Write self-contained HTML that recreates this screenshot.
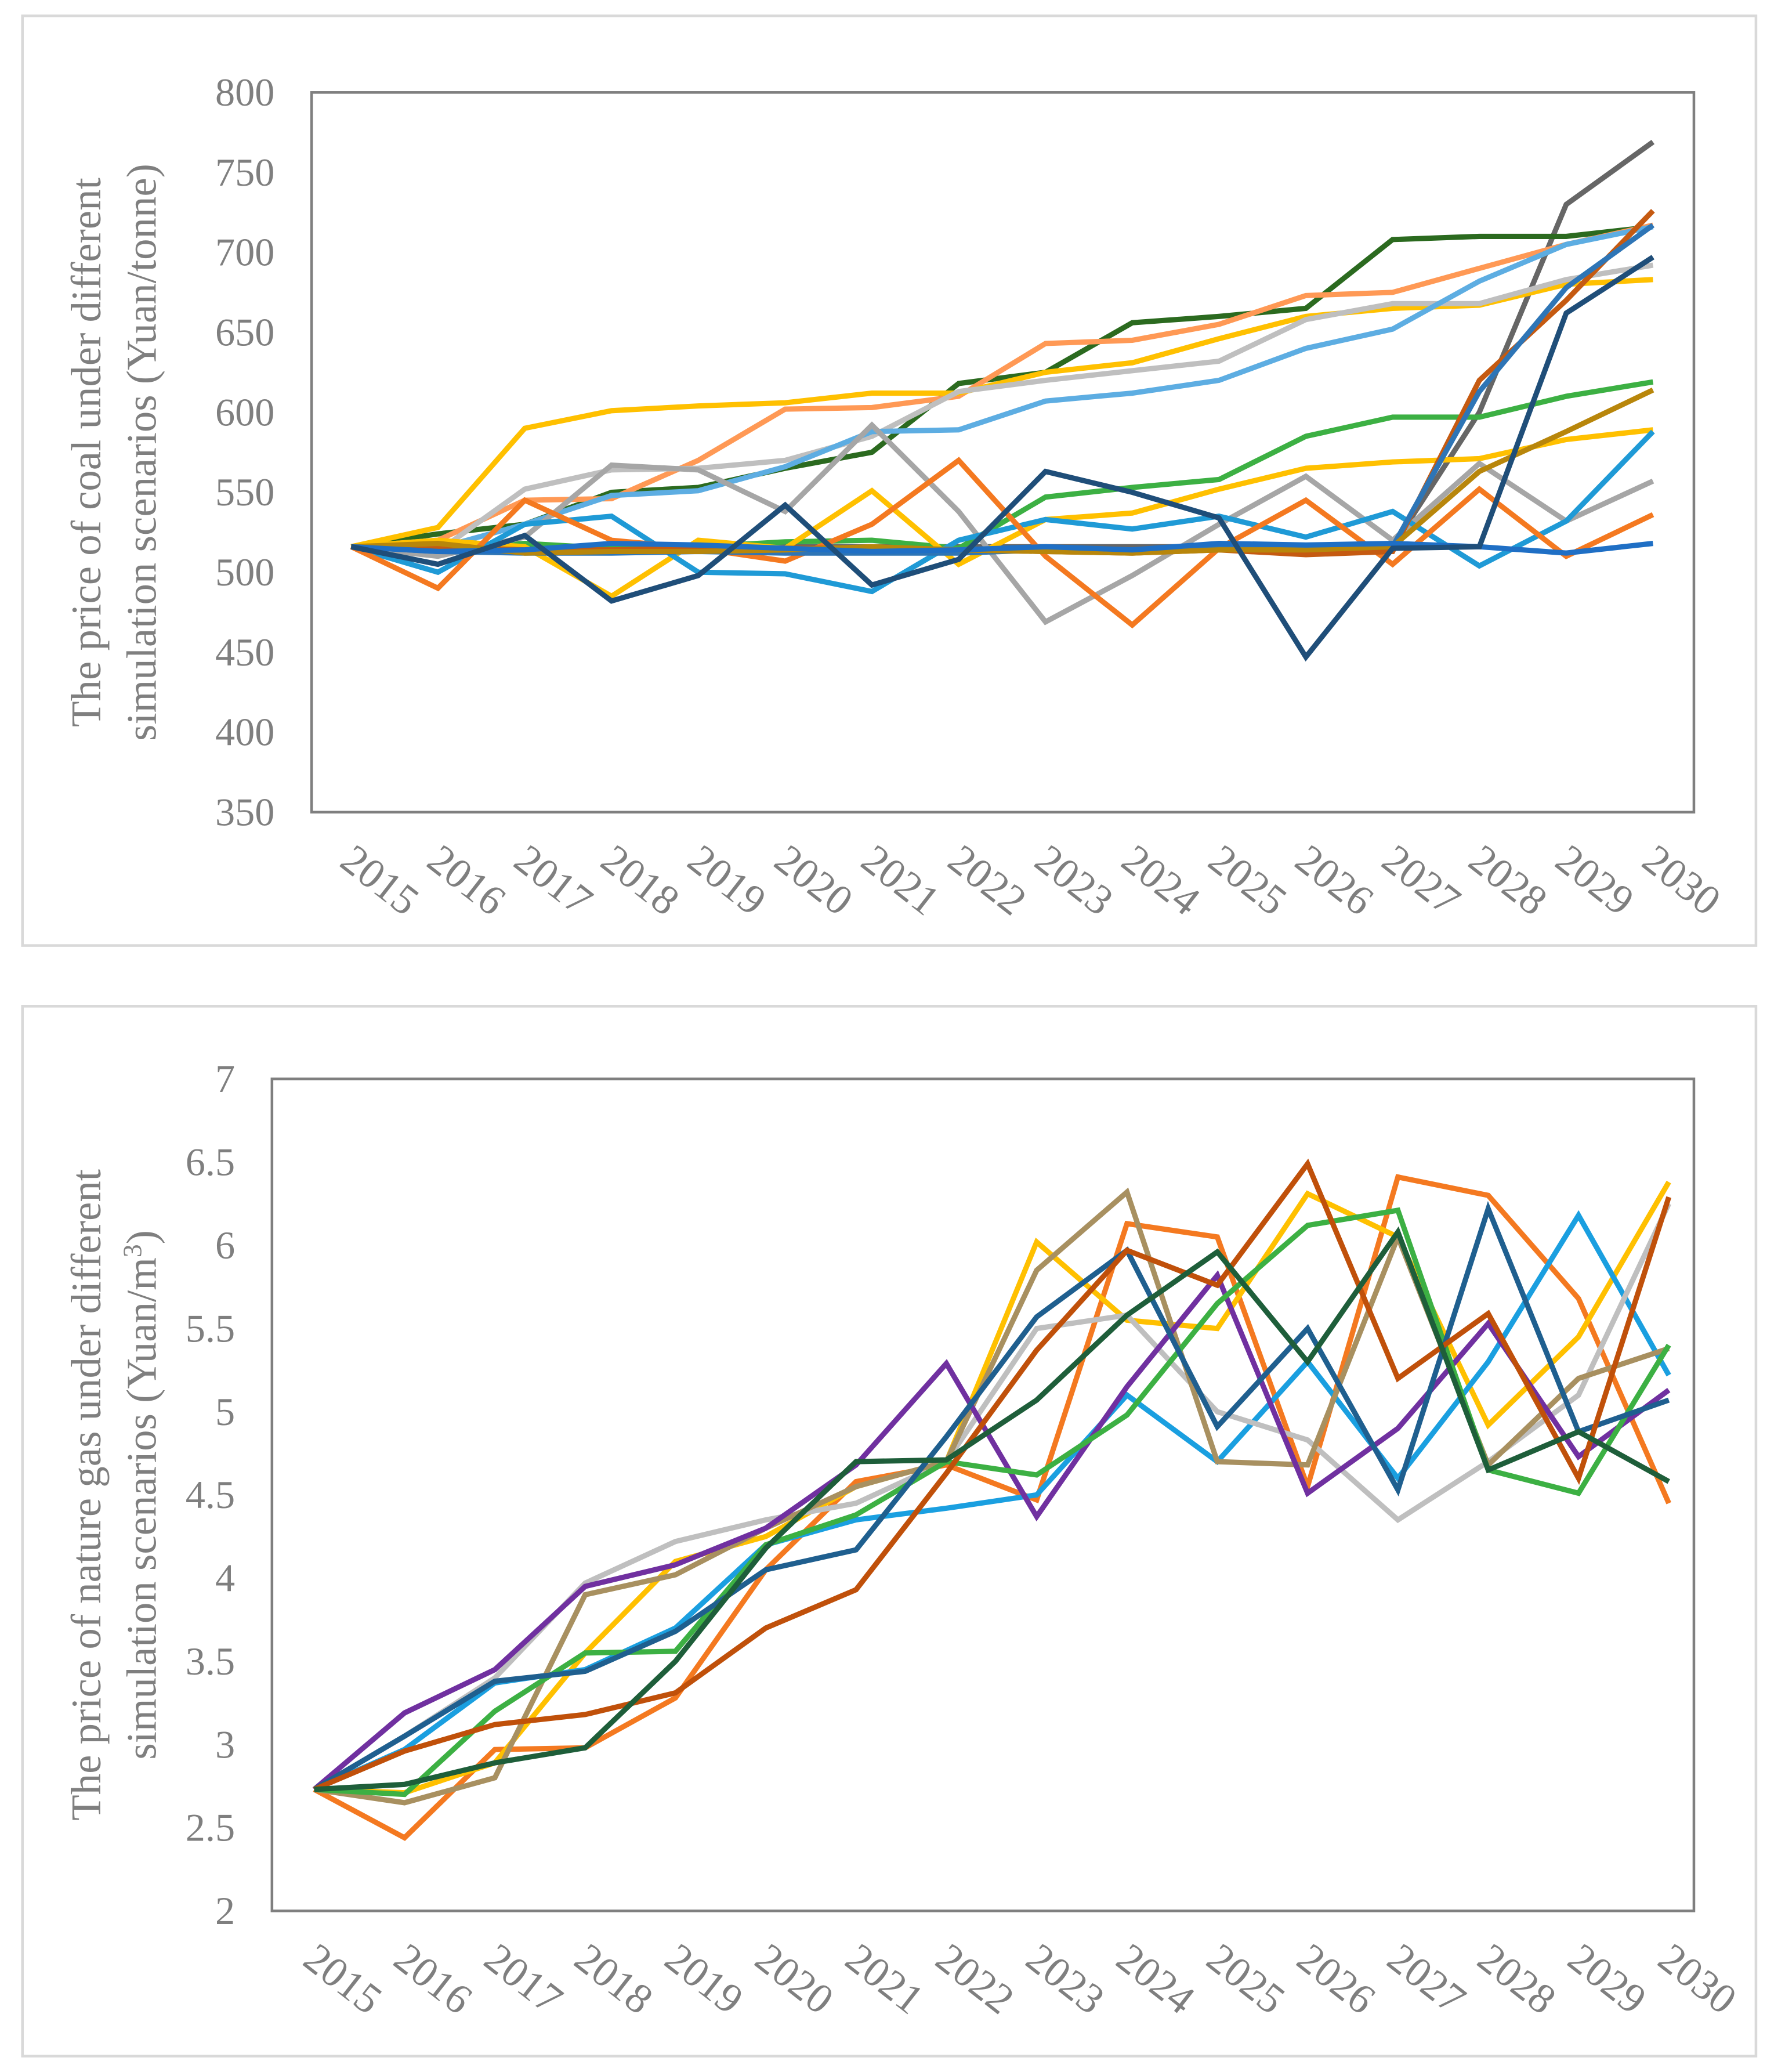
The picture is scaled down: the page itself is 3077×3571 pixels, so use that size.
<!DOCTYPE html>
<html><head><meta charset="utf-8"><style>
html,body{margin:0;padding:0;background:#fff}
svg{display:block}
text{font-family:"Liberation Serif",serif;fill:#7f7f7f}
</style></head><body>
<svg id="s" width="3077" height="3571" viewBox="0 0 1352 1569" preserveAspectRatio="none" xmlns="http://www.w3.org/2000/svg">
<rect x="17" y="12" width="1313" height="704" fill="#fff" stroke="#d9d9d9" stroke-width="2"/>
<rect x="17" y="762" width="1313" height="795" fill="#fff" stroke="#d9d9d9" stroke-width="2"/>
<g id="c1"></g>
<g id="c2"></g>
</svg>
<script>
const years=[2015,2016,2017,2018,2019,2020,2021,2022,2023,2024,2025,2026,2027,2028,2029,2030];
const coalTicks=[350,400,450,500,550,600,650,700,750,800];
const gasTicks=[2,2.5,3,3.5,4,4.5,5,5.5,6,6.5,7];
const coalColors=["#2b6a1f","#ff9955","#ffc000","#bfbfbf","#5dade2","#3cb043","#ffc000","#a6a6a6","#1f9ad6","#f47920","#1f4e79","#666666","#c55a11","#2e75b6","#b8860b","#1f6fc5"];
const coal1=[516,524,530,550,553,565,575,618,625,656,660,665,708,710,710,716];
const coal2=[516,520,545,546,570,602,603,610,643,645,655,673,675,690,705,717];
const coal3=[516,528,590,601,604,606,612,612,625,631,646,660,665,667,680,683];
const coal4=[516,513,552,564,565,570,585,613,620,626,632,658,668,668,683,692];
const coal5=[516,515,530,548,551,566,588,589,607,612,620,640,652,682,705,716];
const coal6=[516,515,518,515,516,519,520,515,547,553,558,585,597,597,610,619];
const coal7=[516,520,516,485,520,515,551,505,533,537,552,565,569,571,583,589];
const coal8=[516,510,522,567,564,538,592,538,469,498,530,560,520,568,532,557];
const coal9=[516,500,530,535,500,499,488,520,533,527,535,522,538,504,532,588];
const coal10=[516,490,545,520,515,507,530,570,510,467,515,545,505,552,510,536];
const coal11=[516,505,523,482,498,542,492,508,563,550,534,447,515,516,662,697];
const coal12=[516,516,516,516,516,516,516,516,516,516,516,516,516,600,730,769];
const coal13=[516,516,514,514,515,515,515,514,513,512,514,511,513,620,670,726];
const coal14=[516,513,512,512,513,512,512,512,514,514,516,516,516,613,678,717];
const coal15=[516,518,512,513,513,514,516,514,513,512,514,514,516,563,588,614];
const coal16=[516,513,514,518,517,515,513,514,516,514,518,517,518,516,512,518];
const coalSeries=[coal12,coal1,coal2,coal3,coal4,coal5,coal6,coal7,coal8,coal9,coal10,coal13,coal14,coal15,coal16,coal11];
const coalOrder=[11,0,1,2,3,4,5,6,7,8,9,12,13,14,15,10];
const gasColors=["#f47920","#ffc000","#1a9fe0","#bfbfbf","#a89060","#7030a0","#3cb043","#1f5f8f","#c0500a","#1e5e3a"];
const gas1=[2.73,2.44,2.97,2.98,3.28,4.05,4.58,4.68,4.47,6.13,6.05,4.55,6.41,6.30,5.68,4.45];
const gas2=[2.73,2.71,2.89,3.55,4.10,4.25,4.55,4.70,6.02,5.55,5.50,6.31,6.05,4.92,5.45,6.38];
const gas3=[2.73,2.97,3.37,3.45,3.70,4.20,4.35,4.42,4.50,5.10,4.70,5.30,4.60,5.30,6.18,5.22];
const gas4=[2.73,3.05,3.40,3.97,4.22,4.35,4.45,4.70,5.50,5.58,5.00,4.83,4.35,4.70,5.10,6.25];
const gas5=[2.73,2.65,2.80,3.90,4.02,4.30,4.55,4.70,5.85,6.32,4.70,4.68,6.05,4.68,5.20,5.38];
const gas6=[2.73,3.19,3.45,3.95,4.08,4.30,4.68,5.29,4.37,5.15,5.82,4.51,4.90,5.53,4.73,5.13];
const gas7=[2.73,2.70,3.20,3.55,3.56,4.20,4.38,4.70,4.62,4.98,5.65,6.12,6.21,4.65,4.51,5.40];
const gas8=[2.73,3.05,3.38,3.44,3.68,4.05,4.17,4.85,5.57,5.97,4.91,5.50,4.53,6.22,4.88,5.07];
const gas9=[2.73,2.96,3.12,3.18,3.31,3.70,3.93,4.63,5.37,5.97,5.76,6.49,5.20,5.59,4.60,6.29];
const gas10=[2.73,2.76,2.89,2.98,3.50,4.18,4.70,4.71,5.07,5.58,5.96,5.30,6.08,4.65,4.88,4.58];
const gasSeries=[gas1,gas2,gas3,gas4,gas5,gas6,gas7,gas8,gas9,gas10];
const NS="http://www.w3.org/2000/svg";
function mk(parent,tag,attrs){const e=document.createElementNS(NS,tag);for(const k in attrs)e.setAttribute(k,attrs[k]);parent.appendChild(e);return e;}
function draw(g,cfg){
  const {x0,x1,y0,y1,xs,xe,ymin,ymax,ticks,series,colors,titles,prefix}=cfg;
  const X=i=>xs+(xe-xs)*i/(years.length-1);
  const Y=v=>y1-(v-ymin)/(ymax-ymin)*(y1-y0);
  const ax=mk(g,"rect",{x:x0,y:y0,width:x1-x0,height:y1-y0,fill:"none",stroke:"#7f7f7f","stroke-width":2});
  
  
  ticks.forEach(t=>{const tx=mk(g,"text",{x:x0-28,y:Y(t)+10,"text-anchor":"end","font-size":30});tx.textContent=t;
    
    });
  years.forEach((yr,i)=>{const tx=mk(g,"text",{x:0,y:0,"font-size":32,"text-anchor":"start",transform:`translate(${X(i)-10},${y1+40}) rotate(38)`});tx.textContent=yr;
    
    });
  const cy=(y0+y1)/2;
  titles.forEach((t,k)=>{const tx=mk(g,"text",{x:0,y:0,"font-size":32,"text-anchor":"middle",transform:`translate(${76+k*42},${cy}) rotate(-90)`});tx.innerHTML=t;
    
    });
  series.forEach((s,j)=>{const p=mk(g,"polyline",{points:s.map((v,i)=>X(i).toFixed(1)+","+Y(v).toFixed(1)).join(" "),fill:"none",stroke:colors[j],"stroke-width":4,"stroke-linejoin":"miter"});
    
    });
}
const coalCols=coalOrder.map(i=>coalColors[i]);
draw(document.getElementById("c1"),{x0:236,x1:1283,y0:70,y1:615,xs:266,xe:1252,ymin:350,ymax:800,ticks:coalTicks,series:coalSeries,colors:coalCols,
 titles:["The price of coal under different","simulation scenarios (Yuan/tonne)"],prefix:"coal"});
draw(document.getElementById("c2"),{x0:206,x1:1283,y0:817,y1:1447,xs:238,xe:1264,ymin:2,ymax:7,ticks:gasTicks,series:gasSeries,colors:gasColors,
 titles:["The price of nature gas under different","simulation scenarios (Yuan/m<tspan dy='-11' font-size='20'>3</tspan><tspan dy='11'>)</tspan>"],prefix:"gas"});
</script>
</body></html>
